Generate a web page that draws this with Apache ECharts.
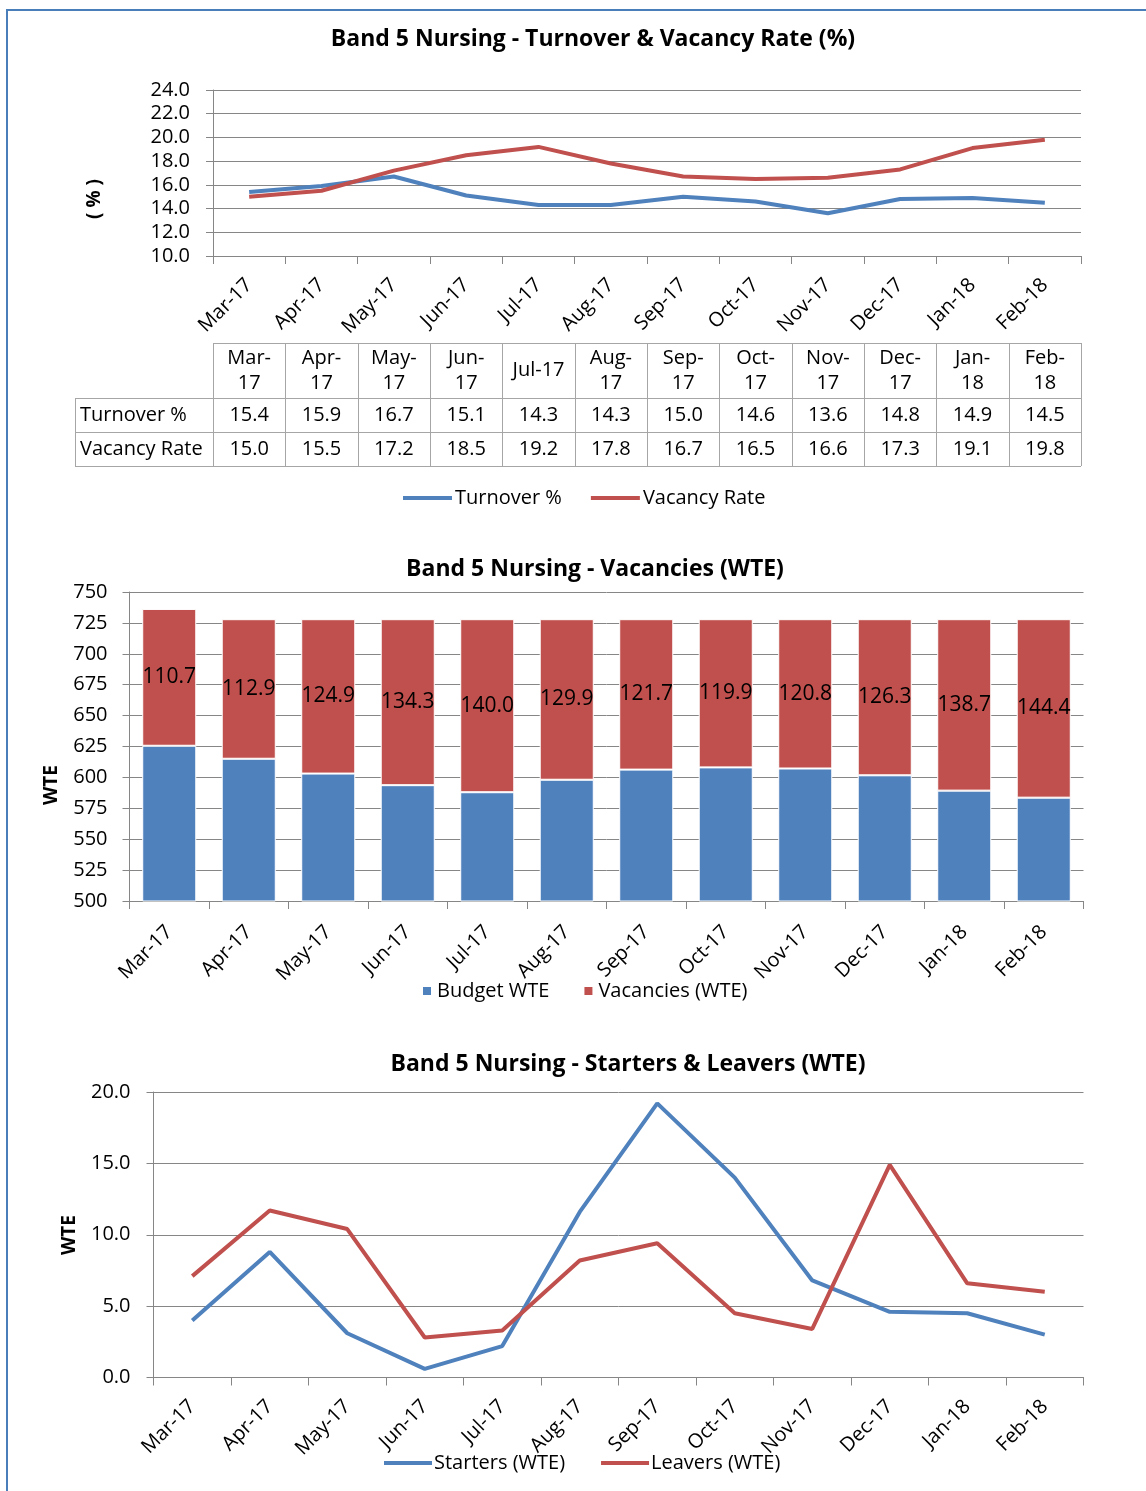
<!DOCTYPE html>
<html><head><meta charset="utf-8">
<script src="https://cdn.jsdelivr.net/npm/echarts@6/dist/echarts.min.js"></script>
<style>html,body{margin:0;padding:0;background:#fff}#c{width:1146px;height:1491px}</style>
</head><body><div id="c"></div>
<script>
// ---------- data ----------
const months = ['Mar-17','Apr-17','May-17','Jun-17','Jul-17','Aug-17','Sep-17','Oct-17','Nov-17','Dec-17','Jan-18','Feb-18'];
const tableHeaders = ['Mar-\n17','Apr-\n17','May-\n17','Jun-\n17','Jul-17','Aug-\n17','Sep-\n17','Oct-\n17','Nov-\n17','Dec-\n17','Jan-\n18','Feb-\n18'];
const turnover = [15.4,15.9,16.7,15.1,14.3,14.3,15.0,14.6,13.6,14.8,14.9,14.5];
const vacancyRate = [15.0,15.5,17.2,18.5,19.2,17.8,16.7,16.5,16.6,17.3,19.1,19.8];
const budgetWTE = [625.6,615.1,603.1,593.7,588.0,598.1,606.3,608.1,607.2,601.7,589.3,583.6];
const vacanciesWTE = [110.7,112.9,124.9,134.3,140.0,129.9,121.7,119.9,120.8,126.3,138.7,144.4];
const starters = [4.0,8.8,3.1,0.6,2.2,11.6,19.2,14.0,6.8,4.6,4.5,3.0];
const leavers = [7.1,11.7,10.4,2.8,3.3,8.2,9.4,4.5,3.4,14.9,6.6,6.0];
const titles = ['Band 5 Nursing - Turnover & Vacancy Rate (%)','Band 5 Nursing - Vacancies (WTE)','Band 5 Nursing - Starters & Leavers (WTE)'];

// ---------- styling ----------
const FONT = '"Open Sans", "Noto Sans", sans-serif';
const BLUE = '#4f81bd', RED = '#c0504d', GRID = '#868686', TBL = '#a6a6a6';
const G = [
  {left:213, top:90, width:868, height:166},
  {left:129.5, top:592, width:954, height:309},
  {left:153.5, top:1092, width:930, height:285.5}
];

function yAxis(gi, min, max, step, dec, margin){
  return {type:'value', gridIndex:gi, min, max, interval:step,
    axisLine:{show:true, lineStyle:{color:GRID, width:1}},
    axisTick:{show:true, length:7, lineStyle:{color:GRID}},
    splitLine:{show:true, lineStyle:{color:GRID, width:1}},
    axisLabel:{margin, color:'#000', fontFamily:FONT, fontSize:20,
      formatter:v=>dec?v.toFixed(dec):String(v)}};
}
function xAxis(gi, margin){
  return {type:'category', gridIndex:gi, data:months, boundaryGap:true,
    axisLine:{show:true, lineStyle:{color:GRID, width:1}},
    axisTick:{show:true, length:8, alignWithLabel:false, lineStyle:{color:GRID}},
    axisLabel:{rotate:45, margin, color:'#000', fontFamily:FONT, fontSize:20, interval:0}};
}

// ---------- data table (chart 1) ----------
const gfx = [];
gfx.push({type:'rect', shape:{x:7, y:10, width:1160, height:1500}, style:{fill:'none', stroke:'#4a7ebb', lineWidth:2}, silent:true});
const colW = G[0].width/12, tx0 = G[0].left, tx1 = G[0].left + G[0].width;
const rowY = [343, 398, 432, 466], labX = 75;
function hline(x1,x2,y){gfx.push({type:'line', shape:{x1,y1:y+0.5,x2,y2:y+0.5}, style:{stroke:TBL, lineWidth:1}, silent:true});}
function vline(x,y1,y2){gfx.push({type:'line', shape:{x1:Math.round(x)+0.5,y1,x2:Math.round(x)+0.5,y2}, style:{stroke:TBL, lineWidth:1}, silent:true});}
hline(tx0, tx1, rowY[0]);
for (let r=1;r<4;r++) hline(labX, tx1, rowY[r]);
vline(labX, rowY[1], rowY[3]);
for (let i=0;i<=12;i++) vline(tx0+i*colW, rowY[0], rowY[3]);
function txt(text, x, y, opts){
  gfx.push(Object.assign({type:'text', x, y, silent:true, style:Object.assign({text, fill:'#000',
    font:'20px '+FONT, textAlign:'center', textVerticalAlign:'middle', align:'center', verticalAlign:'middle', lineHeight:25}, opts||{})}));
}
for (let i=0;i<12;i++){
  const cx = tx0 + (i+0.5)*colW;
  txt(tableHeaders[i], cx, (rowY[0]+rowY[1])/2);
  txt(turnover[i].toFixed(1), cx, (rowY[1]+rowY[2])/2);
  txt(vacancyRate[i].toFixed(1), cx, (rowY[2]+rowY[3])/2);
}
txt('Turnover %', labX+5, (rowY[1]+rowY[2])/2, {textAlign:'left', align:'left'});
txt('Vacancy Rate', labX+5, (rowY[2]+rowY[3])/2, {textAlign:'left', align:'left'});

// y-axis names
function yname(text, x, y){
  gfx.push({type:'text', x, y, rotation:Math.PI/2, silent:true,
    style:{text, fill:'#000', font:'bold 19px '+FONT, textAlign:'center', textVerticalAlign:'middle', align:'center', verticalAlign:'middle'}});
}
yname('( % )', 95, 199);
yname('WTE', 52, 785);
yname('WTE', 70, 1235);

const TT = {fontFamily:FONT, fontWeight:'bold', fontSize:23, color:'#000'};
const LT = {fontFamily:FONT, fontSize:20, color:'#000'};
const option = {
  animation:false,
  backgroundColor:'#fff',
  textStyle:{fontFamily:FONT},
  title:[
    {text:titles[0], left:593, top:39, textAlign:'center', textVerticalAlign:'middle', padding:0, textStyle:TT},
    {text:titles[1], left:595, top:569, textAlign:'center', textVerticalAlign:'middle', padding:0, textStyle:TT},
    {text:titles[2], left:628, top:1064, textAlign:'center', textVerticalAlign:'middle', padding:0, textStyle:TT}
  ],
  grid:G.map(g=>({left:g.left, top:g.top, width:g.width, height:g.height, containLabel:false})),
  xAxis:[xAxis(0,26), xAxis(1,28), xAxis(2,26)],
  yAxis:[yAxis(0,10,24,2,1,23), yAxis(1,500,750,25,0,22), yAxis(2,0,20,5,1,23)],
  legend:[
    {data:['Turnover %','Vacancy Rate'], left:403, top:488, padding:0, icon:'rect', itemWidth:49, itemHeight:4, itemGap:29,
     textStyle:Object.assign({padding:[0,0,0,-2]}, LT)},
    {data:['Budget WTE','Vacancies (WTE)'], left:421, top:981, padding:0, icon:'rect', itemWidth:10, itemHeight:10, itemGap:33,
     textStyle:LT},
    {data:['Starters (WTE)','Leavers (WTE)'], left:384, top:1453, padding:0, icon:'rect', itemWidth:48, itemHeight:4, itemGap:36,
     textStyle:Object.assign({padding:[0,0,0,-3]}, LT)}
  ],
  series:[
    {name:'Turnover %', type:'line', xAxisIndex:0, yAxisIndex:0, data:turnover, showSymbol:false, symbol:'none',
     lineStyle:{color:BLUE, width:4}, itemStyle:{color:BLUE}},
    {name:'Vacancy Rate', type:'line', xAxisIndex:0, yAxisIndex:0, data:vacancyRate, showSymbol:false, symbol:'none',
     lineStyle:{color:RED, width:4}, itemStyle:{color:RED}},
    {name:'Budget WTE', type:'bar', xAxisIndex:1, yAxisIndex:1, stack:'w', data:budgetWTE, barCategoryGap:'32%',
     itemStyle:{color:BLUE, borderColor:'#fff', borderWidth:1}},
    {name:'Vacancies (WTE)', type:'bar', xAxisIndex:1, yAxisIndex:1, stack:'w', data:vacanciesWTE, barCategoryGap:'32%',
     itemStyle:{color:RED, borderColor:'#fff', borderWidth:1},
     label:{show:true, position:'inside', color:'#000', fontFamily:FONT, fontSize:21, formatter:p=>p.value.toFixed(1)}},
    {name:'Starters (WTE)', type:'line', xAxisIndex:2, yAxisIndex:2, data:starters, showSymbol:false, symbol:'none',
     lineStyle:{color:BLUE, width:4}, itemStyle:{color:BLUE}},
    {name:'Leavers (WTE)', type:'line', xAxisIndex:2, yAxisIndex:2, data:leavers, showSymbol:false, symbol:'none',
     lineStyle:{color:RED, width:4}, itemStyle:{color:RED}}
  ],
  graphic:gfx
};
const chart = echarts.init(document.getElementById('c'), null, {renderer:'canvas'});
chart.setOption(option);
</script></body></html>
